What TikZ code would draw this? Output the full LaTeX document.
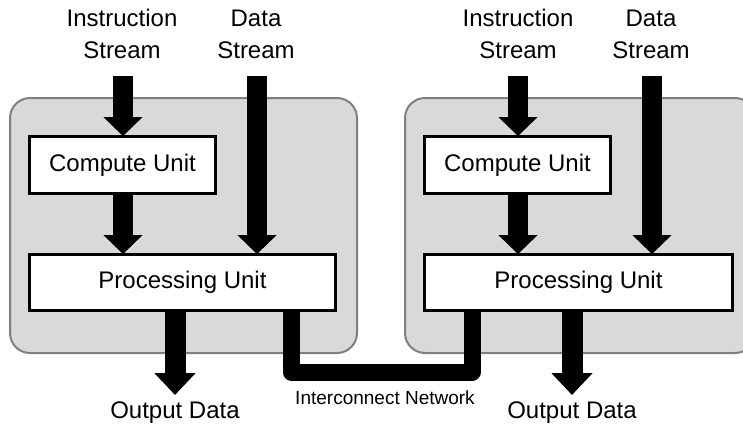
\documentclass[tikz,border=0pt]{standalone}
\usepackage{fontspec}
\setmainfont{Liberation Sans}
\usetikzlibrary{arrows.meta}

\definecolor{panelfill}{HTML}{D9D9D9}
\definecolor{panelline}{HTML}{808080}

\tikzset{
  panel/.style={fill=panelfill, draw=panelline, line width=2pt, rounded corners=20pt},
  unitbox/.style={draw=black, fill=white, line width=1.8pt, inner sep=0pt,
    font=\fontsize{24}{32}\selectfont},
  label/.style={align=center, font=\fontsize{24}{32}\selectfont, inner sep=0pt},
  flow/.style={line width=20pt, -{Triangle[width=38pt, length=19pt]}},
  outflow/.style={line width=21pt, -{Triangle[width=40pt, length=22pt]}},
  feed/.style={line width=20pt},
  link/.style={line width=17pt, line join=round}
}

\begin{document}
\begin{tikzpicture}[x=1pt, y=-1pt]
  \useasboundingbox (0,0) rectangle (743,428);
  \clip (0,0) rectangle (743,428);

  % two processor panels
  \draw[panel] (10,98) rectangle (357,353);
  \draw[panel] (405,98) rectangle (755,353);

  % units
  \node[unitbox, minimum width=185pt, minimum height=56pt] (cu1) at (122.5,165) {Compute Unit};
  \node[unitbox, minimum width=305pt, minimum height=55pt] (pu1) at (182.5,282.5) {Processing Unit};
  \node[unitbox, minimum width=185pt, minimum height=56pt] (cu2) at (517.5,165) {Compute Unit};
  \node[unitbox, minimum width=307pt, minimum height=55pt] (pu2) at (578.5,282.5) {Processing Unit};

  % stream labels
  \node[label] (is1) at (122,34) {Instruction\\Stream};
  \node[label] (ds1) at (256,34) {Data\\Stream};
  \node[label] (is2) at (518,34) {Instruction\\Stream};
  \node[label] (ds2) at (651,34) {Data\\Stream};

  % output labels
  \node[label] (od1) at (175,413) {Output Data};
  \node[label] (od2) at (572,413) {Output Data};
  \node[inner sep=0pt, font=\fontsize{19}{23}\selectfont] (net) at (385,398) {Interconnect Network};

  % stream entry points
  \coordinate (is1s) at (123,76);
  \coordinate (ds1s) at (257,76);
  \coordinate (is2s) at (518,76);
  \coordinate (ds2s) at (652,76);

  % left processor flows
  \draw[flow] (is1s) -- (is1s |- cu1.north);
  \draw[flow] (ds1s) -- (ds1s |- pu1.north);
  \draw[flow] (is1s |- cu1.south) -- (is1s |- pu1.north);
  \coordinate (o1) at (175,395);
  \draw[outflow] (o1 |- pu1.south) -- (o1);

  % right processor flows
  \draw[flow] (is2s) -- (is2s |- cu2.north);
  \draw[flow] (ds2s) -- (ds2s |- pu2.north);
  \draw[flow] (is2s |- cu2.south) -- (is2s |- pu2.north);
  \coordinate (o2) at (572,395);
  \draw[outflow] (o2 |- pu2.south) -- (o2);

  % interconnect between the processors
  \coordinate (n1) at (291,372);
  \coordinate (n2) at (472,372);
  \draw[link] (n1 |- pu1.south) -- (n1) -- (n2) -- (n2 |- pu2.south);

  % redraw unit borders over the arrow ends
  \foreach \u in {cu1,pu1,cu2,pu2}
    \draw[line width=1.8pt] (\u.south west) rectangle (\u.north east);
\end{tikzpicture}
\end{document}
